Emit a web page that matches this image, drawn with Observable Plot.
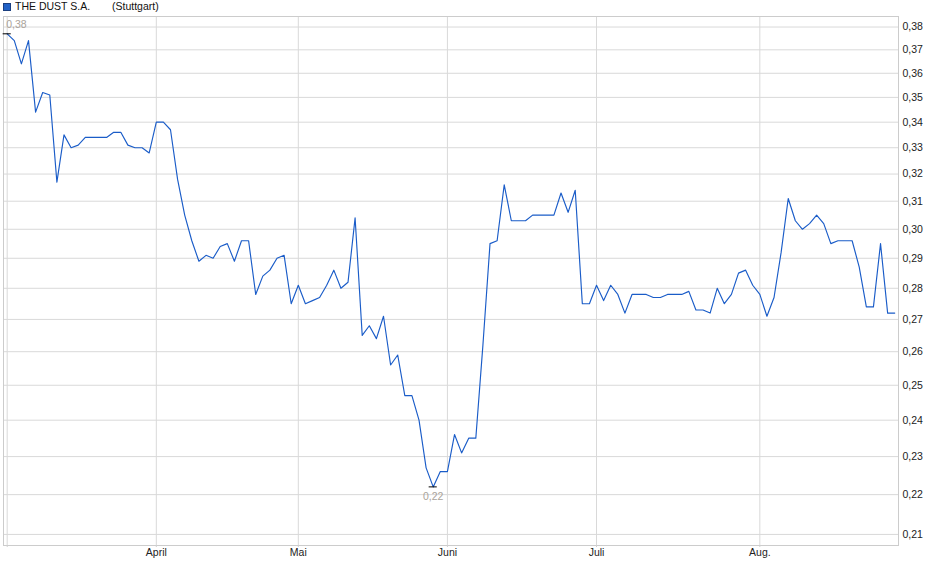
<!DOCTYPE html>
<html><head><meta charset="utf-8">
<script src="https://cdn.jsdelivr.net/npm/d3@7"></script>
<script src="https://cdn.jsdelivr.net/npm/@observablehq/plot@0.6"></script>
<style>
body{margin:0;background:#fff;font-family:"Liberation Sans",Arial,sans-serif;}
#wrap{position:relative;width:940px;height:579px;}
#legend{position:absolute;left:0;top:0;width:300px;height:14px;font-size:10.5px;color:#111;}
#legend .sq{position:absolute;left:3px;top:3px;width:6px;height:6px;border:1px solid #1b3f80;background:#2161c6;}
#legend .t{position:absolute;top:0;line-height:12px;white-space:nowrap;}
#chart{position:absolute;left:0;top:0;}
</style></head>
<body>
<div id="wrap">
  <div id="chart"></div>
  <div id="legend"><div class="sq"></div><span class="t" id="name" style="left:15px"></span><span class="t" id="exch" style="left:112px"></span></div>
</div>
<script>
const seriesName = "THE DUST S.A.";
const exchangeName = "(Stuttgart)";

// daily closing prices (one value per trading day)
const prices = [
  0.377, 0.374, 0.364, 0.374, 0.344, 0.352, 0.351, 0.317, 0.335, 0.330,
  0.331, 0.334, 0.334, 0.334, 0.334, 0.336, 0.336, 0.331, 0.330, 0.330,
  0.328, 0.340, 0.340, 0.337, 0.318, 0.305, 0.296, 0.289, 0.291, 0.290,
  0.294, 0.295, 0.289, 0.296, 0.296, 0.278, 0.284, 0.286, 0.290, 0.291,
  0.275, 0.281, 0.275, 0.276, 0.277, 0.281, 0.286, 0.280, 0.282, 0.304,
  0.265, 0.268, 0.264, 0.271, 0.256, 0.259, 0.247, 0.247, 0.240, 0.227,
  0.222, 0.226, 0.226, 0.236, 0.231, 0.235, 0.235, 0.262, 0.295, 0.296,
  0.316, 0.303, 0.303, 0.303, 0.305, 0.305, 0.305, 0.305, 0.313, 0.306,
  0.314, 0.275, 0.275, 0.281, 0.276, 0.281, 0.278, 0.272, 0.278, 0.278,
  0.278, 0.277, 0.277, 0.278, 0.278, 0.278, 0.279, 0.273, 0.273, 0.272,
  0.280, 0.275, 0.278, 0.285, 0.286, 0.281, 0.278, 0.271, 0.277, 0.292,
  0.311, 0.303, 0.300, 0.302, 0.305, 0.302, 0.295, 0.296, 0.296, 0.296,
  0.287, 0.274, 0.274, 0.295, 0.272, 0.272
];

// trading-day index of the first day of each month
const monthTickIndex = [0, 21, 41, 62, 83, 106];
const monthTickLabels = ["", "April", "Mai", "Juni", "Juli", "Aug."];

const yTicks = [0.21, 0.22, 0.23, 0.24, 0.25, 0.26, 0.27, 0.28, 0.29, 0.30,
                0.31, 0.32, 0.33, 0.34, 0.35, 0.36, 0.37, 0.38];

document.getElementById("name").textContent = seriesName;
document.getElementById("exch").textContent = exchangeName;

const data = prices.map((v, i) => ({i, v}));
const maxPt = data.reduce((a, b) => (b.v > a.v ? b : a));
const minPt = data.reduce((a, b) => (b.v < a.v ? b : a));
const fmt = d => d.toFixed(2).replace(".", ",");
const monthLabel = new Map(monthTickIndex.map((t, k) => [t, monthTickLabels[k]]));

const chart = Plot.plot({
  width: 940,
  height: 579,
  marginTop: 16,
  marginBottom: 34,
  marginLeft: 3,
  marginRight: 42,
  style: {fontFamily: "'Liberation Sans', Arial, sans-serif", fontSize: "10.5px", background: "#fff"},
  x: {type: "linear", domain: [-0.52, 125.53], label: null},
  y: {type: "log", domain: [0.2073, 0.3847], label: null},
  marks: [
    Plot.gridY(yTicks, {stroke: "#d9d9d9", strokeOpacity: 1}),
    Plot.gridX(monthTickIndex, {stroke: "#d9d9d9", strokeOpacity: 1}),
    Plot.frame({stroke: "#cccccc"}),
    Plot.axisX(monthTickIndex, {anchor: "bottom", tickSize: 2, tickPadding: 1, stroke: "#d0d0d0",
      fill: "#222", fontSize: 10.5, tickFormat: d => monthLabel.get(d), label: null}),
    Plot.axisY(yTicks, {anchor: "right", tickSize: 0, tickPadding: 4, fill: "#222",
      fontSize: 10.5, tickFormat: fmt, label: null}),
    Plot.line(data, {x: "i", y: "v", stroke: "#1a5cc8", strokeWidth: 1.15}),
    Plot.ruleY([maxPt, minPt], {y: "v", x1: d => d.i - 0.57, x2: d => d.i + 0.57, stroke: "#000", strokeWidth: 1}),
    Plot.text([maxPt], {x: "i", y: "v", text: d => fmt(d.v), textAnchor: "start", dx: -1, dy: -9,
      fill: "#aaa39b", fontSize: 10.5}),
    Plot.text([minPt], {x: "i", y: "v", text: d => fmt(d.v), dy: 10, fill: "#aaa39b", fontSize: 10.5})
  ]
});
document.getElementById("chart").appendChild(chart);
</script>
</body></html>
